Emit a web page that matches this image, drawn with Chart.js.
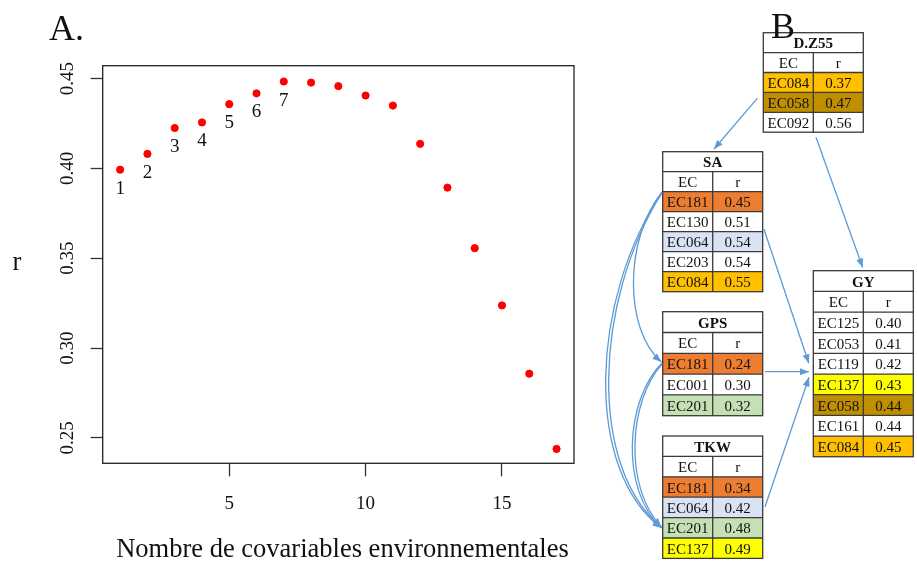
<!DOCTYPE html>
<html>
<head>
<meta charset="utf-8">
<script src="https://cdn.jsdelivr.net/npm/chart.js@4.4.1/dist/chart.umd.min.js"></script>
<style>
  body { margin: 0; background: #fff; }
  #wrap { width: 917px; height: 563px; }
</style>
</head>
<body>
<div id="wrap"><canvas id="c" width="917" height="563"></canvas></div>
<script>
// panel A data
var nCov = [1, 2, 3, 4, 5, 6, 7, 8, 9, 10, 11, 12, 13, 14, 15, 16, 17];
var rValues = [0.3993, 0.4081, 0.4225, 0.4256, 0.4358, 0.4418, 0.4484, 0.4478, 0.4458,
               0.4406, 0.4350, 0.4137, 0.3893, 0.3556, 0.3237, 0.2857, 0.2438];
var pointLabels = ['1', '2', '3', '4', '5', '6', '7'];
var xTicks = [5, 10, 15];
var yTicks = [0.25, 0.30, 0.35, 0.40, 0.45];
var yTickLabels = ['0.25', '0.30', '0.35', '0.40', '0.45'];

// panel B data
var tableNames = ['D.Z55', 'SA', 'GPS', 'TKW', 'GY'];
var tableEC = [
  ['EC084', 'EC058', 'EC092'],
  ['EC181', 'EC130', 'EC064', 'EC203', 'EC084'],
  ['EC181', 'EC001', 'EC201'],
  ['EC181', 'EC064', 'EC201', 'EC137'],
  ['EC125', 'EC053', 'EC119', 'EC137', 'EC058', 'EC161', 'EC084']
];
var tableR = [
  ['0.37', '0.47', '0.56'],
  ['0.45', '0.51', '0.54', '0.54', '0.55'],
  ['0.24', '0.30', '0.32'],
  ['0.34', '0.42', '0.48', '0.49'],
  ['0.40', '0.41', '0.42', '0.43', '0.44', '0.44', '0.45']
];

// layout / styles for panel B
var tableBox = [
  { x: 763.3, y: 32.7, rowH: 19.9 },
  { x: 662.7, y: 151.7, rowH: 20.0 },
  { x: 662.7, y: 311.7, rowH: 20.8 },
  { x: 662.7, y: 436.0, rowH: 20.4 },
  { x: 813.3, y: 270.7, rowH: 20.67 }
];
var ecColors = {
  EC181: '#ED7D31', EC084: '#FFC000', EC058: '#BF8F00',
  EC064: '#DAE3F3', EC201: '#C5E0B4', EC137: '#FFFF00'
};
var serif = '"Liberation Serif", "Times New Roman", serif';
var blue = '#5B9BD5';

function arrowHead(ctx, x, y, fromX, fromY) {
  var a = Math.atan2(y - fromY, x - fromX);
  var len = 9, w = 3.5;
  ctx.beginPath();
  ctx.moveTo(x, y);
  ctx.lineTo(x - len * Math.cos(a) + w * Math.sin(a), y - len * Math.sin(a) - w * Math.cos(a));
  ctx.lineTo(x - len * Math.cos(a) - w * Math.sin(a), y - len * Math.sin(a) + w * Math.cos(a));
  ctx.closePath();
  ctx.fill();
}

function straightArrow(ctx, x1, y1, x2, y2) {
  ctx.beginPath();
  ctx.moveTo(x1, y1);
  ctx.lineTo(x2, y2);
  ctx.stroke();
  arrowHead(ctx, x2, y2, x1, y1);
}

function curveArrow(ctx, p0, c1, c2, p3, head) {
  ctx.beginPath();
  ctx.moveTo(p0[0], p0[1]);
  ctx.bezierCurveTo(c1[0], c1[1], c2[0], c2[1], p3[0], p3[1]);
  ctx.stroke();
  if (head) arrowHead(ctx, p3[0], p3[1], c2[0], c2[1]);
}

function drawTable(ctx, i) {
  var b = tableBox[i];
  var colW = 50, h = b.rowH;
  var ecs = tableEC[i], rs = tableR[i];
  var nRows = ecs.length + 2;
  ctx.save();
  // fills
  for (var k = 0; k < ecs.length; k++) {
    var col = ecColors[ecs[k]];
    if (col) {
      ctx.fillStyle = col;
      ctx.fillRect(b.x, b.y + (k + 2) * h, colW * 2, h);
    }
  }
  ctx.strokeStyle = '#3a3a3a';
  ctx.lineWidth = 1.3;
  ctx.strokeRect(b.x, b.y, colW * 2, nRows * h);
  for (var r = 1; r < nRows; r++) {
    ctx.beginPath();
    ctx.moveTo(b.x, b.y + r * h);
    ctx.lineTo(b.x + colW * 2, b.y + r * h);
    ctx.stroke();
  }
  ctx.beginPath();
  ctx.moveTo(b.x + colW, b.y + h);
  ctx.lineTo(b.x + colW, b.y + nRows * h);
  ctx.stroke();

  ctx.fillStyle = '#111';
  ctx.textAlign = 'center';
  ctx.textBaseline = 'alphabetic';
  ctx.font = 'bold 15px ' + serif;
  ctx.fillText(tableNames[i], b.x + colW, b.y + h * 0.5 + 5.5);
  ctx.font = '15px ' + serif;
  ctx.fillText('EC', b.x + colW / 2, b.y + h * 1.5 + 5.5);
  ctx.fillText('r', b.x + colW * 1.5, b.y + h * 1.5 + 5.5);
  for (var k2 = 0; k2 < ecs.length; k2++) {
    var yy = b.y + (k2 + 2.5) * h + 5.5;
    ctx.fillText(ecs[k2], b.x + colW / 2, yy);
    ctx.fillText(rs[k2], b.x + colW * 1.5, yy);
  }
  ctx.restore();
}

var extras = {
  id: 'extras',
  afterDraw: function(chart) {
    var ctx = chart.ctx;
    var area = chart.chartArea;
    var xs = chart.scales.x, ys = chart.scales.y;
    ctx.save();
    // box
    ctx.strokeStyle = '#222';
    ctx.lineWidth = 1.3;
    ctx.strokeRect(area.left, area.top, area.right - area.left, area.bottom - area.top);

    ctx.fillStyle = '#111';
    ctx.font = '19px ' + serif;
    // x tick labels
    ctx.textAlign = 'center';
    ctx.textBaseline = 'alphabetic';
    xs.ticks.forEach(function(t) {
      ctx.fillText(String(t.value), xs.getPixelForValue(t.value), 509);
    });
    // y tick labels, rotated like R
    ys.ticks.forEach(function(t, i) {
      ctx.save();
      ctx.translate(73, ys.getPixelForValue(t.value));
      ctx.rotate(-Math.PI / 2);
      ctx.fillText(yTickLabels[i], 0, 0);
      ctx.restore();
    });
    // point labels
    var meta = chart.getDatasetMeta(0);
    pointLabels.forEach(function(lab, i) {
      var el = meta.data[i];
      ctx.fillText(lab, el.x, el.y + 24);
    });
    // axis titles
    ctx.font = '26.5px ' + serif;
    ctx.fillText('r', 17, 270);
    ctx.fillText('Nombre de covariables environnementales', 342.5, 557);
    // panel letters
    ctx.font = '36px ' + serif;
    ctx.textAlign = 'left';
    ctx.fillText('A.', 49, 40);

    // panel B tables
    for (var i = 0; i < tableNames.length; i++) drawTable(ctx, i);
    ctx.fillStyle = '#111';
    ctx.font = '36px ' + serif;
    ctx.textAlign = 'left';
    ctx.fillText('B', 771, 38);

    // arrows
    ctx.strokeStyle = blue;
    ctx.fillStyle = blue;
    ctx.lineWidth = 1.3;
    straightArrow(ctx, 757.3, 98.3, 714, 149);
    straightArrow(ctx, 816, 137.3, 862.7, 267.5);
    straightArrow(ctx, 764, 229.3, 808.8, 363.3);
    straightArrow(ctx, 765, 371.7, 809, 371.7);
    straightArrow(ctx, 765, 506.7, 809, 377.3);
    curveArrow(ctx, [662, 192], [624, 240], [624, 330], [661.5, 362], true);
    curveArrow(ctx, [662, 192], [590, 300], [584, 470], [661.5, 528], true);
    curveArrow(ctx, [662, 193], [594, 300], [588, 468], [661.5, 527], false);
    curveArrow(ctx, [662, 363], [625, 400], [620, 490], [661.5, 528], false);
    curveArrow(ctx, [662, 364], [628, 402], [624, 488], [661.5, 527], true);
    ctx.restore();
  }
};

var ctx = document.getElementById('c').getContext('2d');
var chart = new Chart(ctx, {
  type: 'scatter',
  data: {
    datasets: [{
      data: nCov.map(function(n, i) { return { x: n, y: rValues[i] }; }),
      backgroundColor: '#FF0000',
      borderColor: '#FF0000',
      pointRadius: 3.6,
      pointHoverRadius: 3.6
    }]
  },
  options: {
    responsive: false,
    animation: false,
    devicePixelRatio: 1,
    layout: { padding: { left: 90.7, right: 343, top: 65.7, bottom: 86.7 } },
    plugins: { legend: { display: false }, tooltip: { enabled: false } },
    scales: {
      x: {
        type: 'linear',
        min: 0.36,
        max: 17.64,
        afterBuildTicks: function(scale) { scale.ticks = xTicks.map(function(v) { return { value: v }; }); },
        ticks: { display: false },
        border: { display: false },
        grid: { drawOnChartArea: false, drawTicks: true, tickLength: 13, tickColor: '#333', tickWidth: 1.3 }
      },
      y: {
        type: 'linear',
        min: 0.2358,
        max: 0.4572,
        afterBuildTicks: function(scale) { scale.ticks = yTicks.map(function(v) { return { value: v }; }); },
        ticks: { display: false },
        border: { display: false },
        grid: { drawOnChartArea: false, drawTicks: true, tickLength: 12, tickColor: '#333', tickWidth: 1.3 }
      }
    }
  },
  plugins: [extras]
});
</script>
</body>
</html>
